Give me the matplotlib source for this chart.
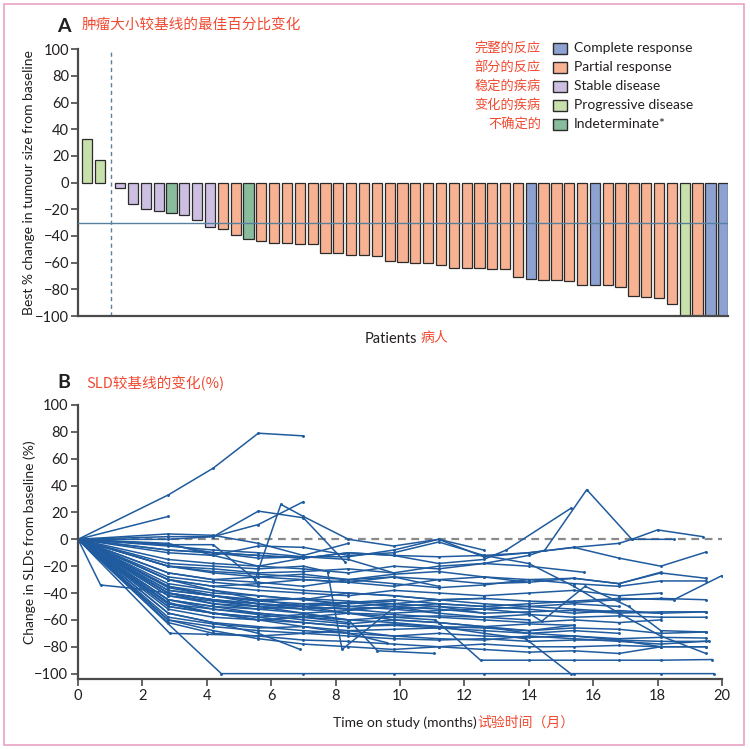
import matplotlib
matplotlib.use('Agg')
import matplotlib.pyplot as plt
from matplotlib.patches import Rectangle
import numpy as np

# ---------------- DATA ----------------
# Panel A: best % change per patient (waterfall), in display order
bar_values = [33, 17, -4, -16, -20, -21, -22.5, -24.5, -28, -33,
              -34.5, -39, -42, -43.5, -45, -45, -46, -46, -52.5, -52.5,
              -54, -54, -55, -58.5, -59.5, -60.5, -60.5, -62, -64, -64,
              -64, -64.5, -64.5, -71, -72, -73, -73, -74, -76.5, -76.5,
              -76.5, -78.5, -85, -86, -86.5, -91, -100, -100, -100, -100]
bar_response = ['PD', 'PD', 'SD', 'SD', 'SD', 'SD', 'IND', 'SD', 'SD', 'SD',
                'PR', 'PR', 'IND', 'PR', 'PR', 'PR', 'PR', 'PR', 'PR', 'PR',
                'PR', 'PR', 'PR', 'PR', 'PR', 'PR', 'PR', 'PR', 'PR', 'PR',
                'PR', 'PR', 'PR', 'PR', 'CR', 'PR', 'PR', 'PR', 'PR', 'CR',
                'PR', 'PR', 'PR', 'PR', 'PR', 'PR', 'PD', 'PR', 'CR', 'CR']
legend_codes = ['CR', 'PR', 'SD', 'PD', 'IND']
legend_en = ['Complete response', 'Partial response', 'Stable disease',
             'Progressive disease', 'Indeterminate*']
legend_zh = ['完整的反应', '部分的反应', '稳定的疾病', '变化的疾病', '不确定的']
response_threshold = -30
a_yticks = [100, 80, 60, 40, 20, 0, -20, -40, -60, -80, -100]

# Panel B: SLD change over time, one (months, % change) pair per patient
visits = [0, 2.8, 4.2, 5.6, 7.0, 8.4, 9.8, 11.2, 12.6, 14.0, 15.4, 16.8, 18.1, 19.5]

upper_curves = [
    ([0, 2.8, 4.2, 5.6, 7.0], [0, 33, 53, 79, 77]),
    ([0, 2.8], [0, 17]),
    ([0, 2.8, 4.2, 5.6, 7.0, 8.3], [0, 2, 2, 21, 16, -17]),
    ([0, 2.8, 4.2, 5.6, 7.0], [0, 0, 2, 11, 28]),
    ([0, 2.8, 4.2, 5.5, 6.3, 7.0, 8.4, 9.8, 11.2, 12.6], [0, -4, -4, -30, 26, 17, 0, -5, 0, -8]),
    ([0, 2.8, 4.2, 5.6, 7.0, 8.4, 9.8, 11.2, 12.6, 14.0, 14.5, 15.8, 17.2, 18.0, 19.4],
     [0, -20, -22, -25, -24, -22, -25, -20, -18, -12, -8, 37, 0, 7, 2]),
    ([0, 2.8, 4.2, 5.6, 7.0, 8.4, 9.8, 11.2, 12.6, 13.3, 15.3],
     [0, -4, -10, -12, -14, -10, -12, -18, -15, -8, 23]),
    ([0, 2.8, 4.2, 5.6, 7.0, 8.4, 9.8, 11.2, 12.6, 14.0, 15.4, 16.8, 17.2, 18.5],
     [0, -3, -12, -5, -6, -12, -10, -2, -12, -10, -6, -3, 0, 0]),
    ([0, 2.8, 4.2, 5.6, 7.0, 8.4], [0, 4, 3, -3, -12, -3]),
    (visits, [0, -8, -10, -14, -13, -13, -8, 0, -13, -10, -6, -14, -20, -9.5]),
    ([0, 2.8, 4.2, 5.6, 7.0], [0, -10, -12, -20, -14]),
    ([0, 2.8, 4.2, 5.6, 7.0, 8.4, 9.8], [0, -5, -8, -10, -13, -15, -25]),
]

mid_curves = [
    (visits, [0, -30, -35, -33, -30, -32, -28, -30, -33, -32, -29, -33, -25, -29]),
    (visits, [0, -25, -30, -32, -35, -30, -33, -36, -34, -30, -33, -35, -31, -31]),
    ([0, 2.8, 4.2, 5.6, 7.0, 8.4, 9.8, 11.2, 12.6, 14.0, 15.4, 16.8, 18.5, 20.0],
     [0, -40, -45, -48, -50, -47, -45, -48, -50, -48, -46, -44, -45, -27]),
    (visits, [0, -38, -42, -45, -44, -46, -48, -45, -44, -46, -47, -45, -44, -45]),
    (visits, [0, -8, -10, -12, -14, -10, -12, -13, -12, -18, -35, -55, -72, -85]),
    (visits[:13], [0, -30, -35, -38, -40, -42, -38, -40, -42, -40, -38, -42, -40]),
    ([0, 2.8, 4.2, 5.6, 7.0, 8.4, 9.8, 11.2, 12.6, 14.0, 15.7],
     [0, -15, -18, -20, -22, -25, -20, -22, -18, -20, -24.5]),
    (visits[:10], [0, -20, -25, -28, -30, -32, -35, -30, -28, -32]),
    (visits[:12], [0, -35, -40, -42, -45, -40, -42, -45, -48, -50, -48, -50]),
    (visits[:9], [0, -28, -32, -35, -38, -40, -42, -45, -44]),
    (visits[:7], [0, -33, -38, -42, -45, -48, -46]),
    (visits[:13], [0, -20, -24, -26, -28, -30, -26, -24, -28, -30, -29, -33, -24.5]),
    (visits[:8], [0, -25, -30, -28, -26, -30, -28, -35]),
    (visits[:10], [0, -36, -42, -46, -48, -47, -50, -55, -58, -60]),
    ([0, 2.8, 4.2, 5.6, 7.0, 7.75, 8.2, 9.75, 11.2, 12.6],
     [0, -18, -20, -22, -20, -24, -82, -52, -50, -55]),
    ([0, 0.7, 1.9, 2.8, 4.2, 5.6, 7.0, 8.4, 9.8, 11.2, 12.6, 14.0, 15.4, 16.8, 18.1],
     [0, -34, -37, -40, -45, -48, -50, -52, -50, -48, -50, -52, -55, -53, -55]),
    (visits[:6], [0, -38, -42, -46, -44, -50]),
    (visits[:8], [0, -42, -46, -50, -48, -50, -52, -55]),
]

deep_curves = [
    (visits, [0, -45, -50, -52, -55, -53, -50, -52, -55, -54, -53, -55, -54, -54]),
    (visits, [0, -50, -55, -58, -56, -60, -58, -57, -58, -56, -58, -57, -58, -58]),
    ([0, 2.8, 4.2, 5.6, 7.0, 8.4, 9.8, 11.2, 12.6, 14.0, 14.4, 15.75, 17.1, 18.1, 19.5],
     [0, -42, -48, -50, -52, -50, -48, -50, -52, -55, -61, -35, -50, -68, -69]),
    (visits, [0, -55, -62, -65, -68, -70, -72, -70, -72, -73, -72, -74, -73, -73.5]),
    (visits, [0, -60, -65, -68, -70, -72, -74, -75, -74, -76, -75, -75, -76, -76]),
    (visits, [0, -62, -70, -72, -75, -76, -78, -80, -78, -80, -80, -79, -80, -80]),
    ([0, 2.8, 4.2, 5.6, 7.0, 8.4, 9.8, 11.1, 12.5, 14.0, 15.4, 16.8, 18.1, 19.7],
     [0, -35, -42, -48, -52, -55, -58, -60, -90, -90, -90, -90, -90, -89.5]),
    ([0, 4.45, 7.0, 9.8, 12.6, 15.4, 18.1, 19.75], [0, -100, -100, -100, -100, -100, -100, -100]),
    ([0, 2.8, 4.2, 5.6, 7.0, 8.4, 9.8, 11.2, 12.6, 13.9, 15.3],
     [0, -45, -50, -55, -58, -60, -62, -65, -70, -74, -100]),
    ([0, 2.85, 4.0, 5.6, 7.0, 8.4, 9.8, 11.2, 12.6, 14.0, 15.4, 16.8, 18.1, 19.6],
     [0, -70, -70.7, -72, -70, -68, -72, -74, -75, -72, -74, -76, -78, -75.7]),
    ([0, 2.8, 4.2, 5.6, 7.0, 8.4, 9.3, 11.05], [0, -40, -45, -50, -55, -60, -83, -85]),
    ([0, 2.8, 4.2, 5.6, 7.0, 8.4, 9.6], [0, -50, -55, -60, -65, -70, -77]),
    ([0, 2.8, 4.2, 5.6, 6.9], [0, -55, -62, -70, -82]),
    (visits[:13], [0, -48, -52, -55, -58, -55, -56, -58, -60, -62, -60, -62, -60]),
    (visits, [0, -52, -58, -60, -62, -65, -63, -65, -66, -68, -66, -67, -70, -69]),
    (visits[:11], [0, -45, -52, -56, -60, -63, -60, -62, -65, -63, -64]),
    (visits, [0, -40, -48, -52, -50, -52, -55, -53, -52, -50, -52, -54, -55, -54]),
    (visits[:12], [0, -58, -63, -66, -65, -68, -67, -66, -68, -70, -68, -70]),
    (visits[:13], [0, -60, -68, -74, -78, -80, -82, -80, -82, -84, -83, -85, -80]),
    (visits, [0, -30, -38, -45, -50, -55, -60, -62, -65, -70, -72, -75, -80, -80]),
    (visits[:6], [0, -47, -55, -60, -58, -62]),
    (visits[:11], [0, -48, -55, -58, -62, -65, -64, -66, -65, -68, -64]),
]
b_xticks = [0, 2, 4, 6, 8, 10, 12, 14, 16, 18, 20]
b_yticks = [100, 80, 60, 40, 20, 0, -20, -40, -60, -80, -100]

# ---------------- STYLE ----------------
W, H = 750, 749
EN = ['Lato', 'DejaVu Sans']
CJK = ['Noto Sans CJK SC', 'DejaVu Sans']
RED = '#f04a32'
INK = '#231f20'
FILL = {'CR': '#8ea2d2', 'PR': '#f7b294', 'SD': '#cdbfe2',
        'PD': '#c8e0ab', 'IND': '#88bc9c'}
LINE_BLUE = '#1f5b9e'

plt.rcParams['font.family'] = EN


def fx(px):
    return px / W


def fy(py):
    return 1 - py / H


fig = plt.figure(figsize=(W / 100, H / 100), dpi=100)
fig.patches.append(Rectangle((fx(4), fy(745)), fx(740), (741) / H,
                             transform=fig.transFigure, fill=False,
                             edgecolor='#e9a3c3', linewidth=1.2))

# ---------------- PANEL A ----------------
axA = fig.add_axes([fx(78), fy(316), fx(650), (316 - 49.3) / H])
idx = np.arange(len(bar_values))
xpos = idx + np.where(idx >= 2, 0.6, 0.0)
axA.bar(xpos, bar_values, width=0.8,
        color=[FILL[r] for r in bar_response],
        edgecolor='#2b2b2b', linewidth=0.9, zorder=2)
axA.axhline(response_threshold, color='#58809f', linewidth=1.0, zorder=3)
axA.axvline(1.88, color='#58809f', linewidth=1.0, linestyle=(0, (3, 2.5)), zorder=1)
axA.set_xlim(-0.69, 49.97)
axA.set_ylim(-100, 100)
axA.set_yticks(a_yticks)
axA.set_xticks([])
for s in ['top', 'right']:
    axA.spines[s].set_visible(False)
for s in ['left', 'bottom']:
    axA.spines[s].set_color('#4a4a4a')
    axA.spines[s].set_linewidth(1.6)
axA.tick_params(axis='y', length=5, width=1.2, color='#4a4a4a',
                labelsize=10.5, labelcolor=INK, pad=1.5)
axA.set_ylabel('Best % change in tumour size from baseline', fontsize=10,
               color=INK, labelpad=0)

fig.text(fx(57), fy(26), 'A', fontsize=14, fontweight='bold', color=INK,
         va='center', ha='left')
fig.text(fx(82), fy(25), '肿瘤大小较基线的最佳百分比变化', family=CJK, fontsize=10.5,
         color=RED, va='center', ha='left')

# legend drawn manually
for i, (code, en, zh) in enumerate(zip(legend_codes, legend_en, legend_zh)):
    yc = 48.5 + i * 18.9
    fig.patches.append(Rectangle((fx(553), fy(yc + 5.5)), fx(14), 11 / H,
                                 transform=fig.transFigure, facecolor=FILL[code],
                                 edgecolor='#2b2b2b', linewidth=1.0))
    fig.text(fx(574), fy(yc), en, fontsize=10, color=INK, va='center', ha='left')
    fig.text(fx(541), fy(yc), zh, family=CJK, fontsize=9.5, color=RED,
             va='center', ha='right')

fig.text(fx(365), fy(339), 'Patients', fontsize=10.5, color=INK, va='center', ha='left')
fig.text(fx(421), fy(338), '病人', family=CJK, fontsize=10, color=RED, va='center', ha='left')

# ---------------- PANEL B ----------------
axB = fig.add_axes([fx(78), fy(679), fx(644), (679 - 405) / H])
axB.axhline(0, color='#8a8a8a', linewidth=1.6, linestyle=(0, (3.5, 2.5)), zorder=1)
for group in (upper_curves, mid_curves, deep_curves):
    for t, v in group:
        axB.plot(t, v, color=LINE_BLUE, linewidth=1.1, marker='o', markersize=1.1,
                 zorder=2)
axB.set_xlim(0, 20)
axB.set_ylim(-104, 100)
axB.set_xticks(b_xticks)
axB.set_yticks(b_yticks)
for s in ['top', 'right']:
    axB.spines[s].set_visible(False)
for s in ['left', 'bottom']:
    axB.spines[s].set_color('#4a4a4a')
    axB.spines[s].set_linewidth(1.6)
axB.tick_params(axis='both', length=5, width=1.2, color='#4a4a4a',
                labelsize=10.5, labelcolor=INK, pad=2)
axB.set_ylabel('Change in SLDs from baseline (%)', fontsize=10, color=INK, labelpad=-1)

fig.text(fx(57), fy(383), 'B', fontsize=14, fontweight='bold', color=INK,
         va='center', ha='left')
fig.text(fx(86), fy(383), 'SLD较基线的变化(%)', family=CJK, fontsize=10.5,
         color=RED, va='center', ha='left')
t_en = fig.text(fx(333), fy(723), 'Time on study (months)', fontsize=10, color=INK,
                va='center', ha='left')
fig.text(fx(477), fy(723), '试验时间（月）', family=CJK, fontsize=10, color=RED,
         va='center', ha='left')

fig.savefig('out.png', dpi=100)
